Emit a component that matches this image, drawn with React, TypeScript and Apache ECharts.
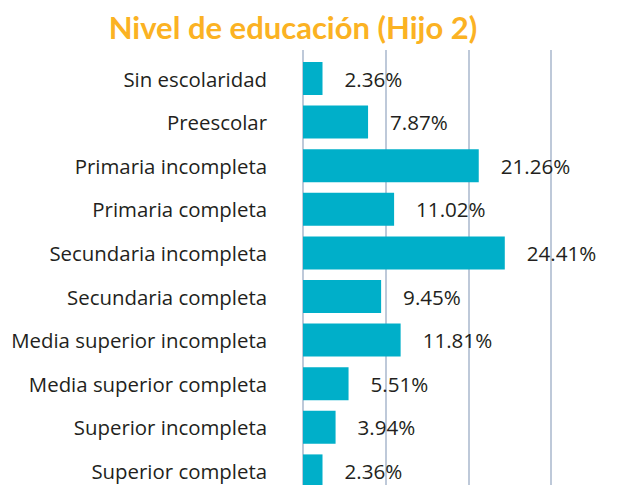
import React, { useEffect, useRef } from "react";
import * as echarts from "echarts";

const titleText = "Nivel de educación (Hijo 2)";
const categories = [
  "Sin escolaridad",
  "Preescolar",
  "Primaria incompleta",
  "Primaria completa",
  "Secundaria incompleta",
  "Secundaria completa",
  "Media superior incompleta",
  "Media superior completa",
  "Superior incompleta",
  "Superior completa",
];
const values = [2.36, 7.87, 21.26, 11.02, 24.41, 9.45, 11.81, 5.51, 3.94, 2.36];
const axisMin = 0;
const axisMax = 30;
const axisInterval = 10;

export default function App() {
  const ref = useRef<HTMLDivElement>(null);
  useEffect(() => {
    document.body.style.margin = "0";
    if (!ref.current) return;
    const chart = echarts.init(ref.current, undefined, { renderer: "svg" });
    const textColor = "#231f20";
    const gridColor = "#a9b7cc";
    chart.setOption({
      animation: false,
      backgroundColor: "#ffffff",
      graphic: [
        {
          type: "text",
          x: 293,
          y: 27,
          style: {
            text: titleText,
            font: "bold 31px Lato",
            fill: "#fbb223",
            align: "center",
            verticalAlign: "middle",
          },
        },
      ],
      grid: [
        { left: 303, right: 75, top: 56.7, height: 436 },
        { left: 303, right: 75, top: 50, height: 450 },
      ],
      xAxis: [
        {
          gridIndex: 0,
          type: "value",
          min: axisMin,
          max: axisMax,
          interval: axisInterval,
          axisLine: { show: false },
          axisTick: { show: false },
          axisLabel: { show: false },
          splitLine: { show: false },
        },
        {
          gridIndex: 1,
          type: "value",
          min: axisMin,
          max: axisMax,
          interval: axisInterval,
          axisLine: { show: false },
          axisTick: { show: false },
          axisLabel: { show: false },
          splitLine: { show: true, lineStyle: { color: gridColor, width: 1.5 } },
        },
      ],
      yAxis: [
        {
          gridIndex: 0,
          type: "category",
          data: categories,
          inverse: true,
          axisLine: { show: false },
          axisTick: { show: false },
          axisLabel: {
            margin: 36,
            color: textColor,
            fontFamily: "Open Sans",
            fontSize: 20.4,
          },
          splitLine: { show: false },
        },
        {
          gridIndex: 1,
          type: "value",
          min: 0,
          max: 1,
          show: false,
          splitLine: { show: false },
        },
      ],
      series: [
        {
          type: "bar",
          xAxisIndex: 1,
          yAxisIndex: 1,
          data: [],
          silent: true,
        },
        {
          type: "bar",
          xAxisIndex: 0,
          yAxisIndex: 0,
          data: values,
          barWidth: 33,
          itemStyle: { color: "#00afc9" },
          label: {
            show: true,
            position: "right",
            distance: 22,
            color: textColor,
            fontFamily: "Open Sans",
            fontSize: 20.6,
            formatter: (p: any) => p.value.toFixed(2) + "%",
          },
        },
      ],
    });
    return () => chart.dispose();
  }, []);
  return (
    <div style={{ width: 626, height: 485, overflow: "hidden", position: "relative" }}>
      <div ref={ref} style={{ width: 626, height: 510 }} />
    </div>
  );
}
